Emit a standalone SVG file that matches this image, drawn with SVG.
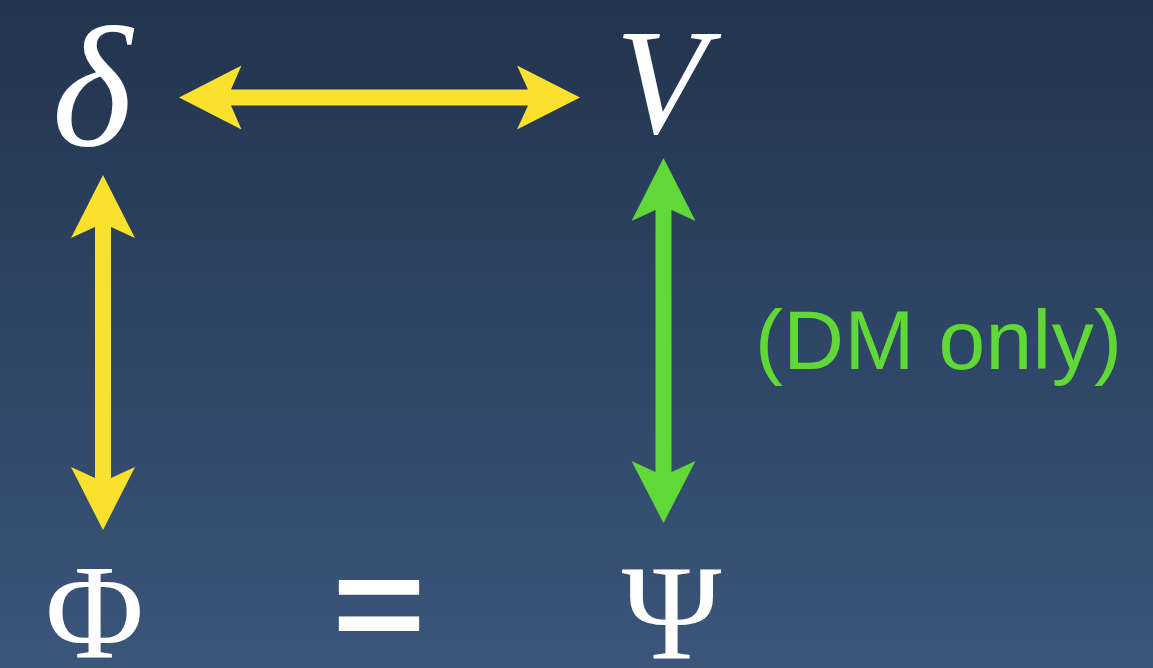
<svg xmlns="http://www.w3.org/2000/svg" width="1153" height="668" viewBox="0 0 1153 668">
<defs>
<linearGradient id="bg" x1="0" y1="0" x2="0" y2="1">
<stop offset="0" stop-color="#22344e"/>
<stop offset="1" stop-color="#3a567a"/>
</linearGradient>
</defs>
<style>
.sym{fill:#ffffff;font-family:"Liberation Serif","Times New Roman",serif;text-anchor:middle}
.it{font-style:italic}
.yel{fill:#f9e12d}
.grn{fill:#60d838}
.lbl{fill:#60d838;font-family:"Liberation Sans",Arial,sans-serif;font-size:84px}
.eq{fill:#ffffff;font-family:"Liberation Sans",Arial,sans-serif;font-weight:bold;text-anchor:middle}
</style>
<rect width="1153" height="668" fill="url(#bg)"/>
<g id="connectors">
<path class="yel" d="M179,97.5 L241.5,65.5 L231,89.5 L528,89.5 L517,65.5 L580,97.5 L517,129.5 L528,105.5 L231,105.5 L241.5,129.5 Z"/>
<path class="yel" d="M103,175 L135,238 L111,227 L111,478 L135,467 L103,530 L71,467 L95,478 L95,227 L71,238 Z"/>
<path class="grn" d="M663.5,158 L695.5,221 L671.5,210 L671.5,472 L695.5,461 L663.5,523 L631.5,461 L655.5,472 L655.5,210 L631.5,221 Z"/>
</g>
<g id="delta"><text class="sym it" x="92" y="145" font-size="172">δ</text></g>
<g id="V"><text class="sym it" x="661" y="133" font-size="150">V</text></g>
<g id="Phi"><text class="sym" x="94.5" y="658" font-size="135">Φ</text></g>
<g id="equals"><text class="eq" x="379" y="658" font-size="160" transform="translate(0,91.2) scale(1,0.85)">=</text></g>
<g id="Psi"><text class="sym" x="671.5" y="659" font-size="135">Ψ</text></g>
<g id="label"><text class="lbl" x="755" y="369" textLength="367">(DM only)</text></g>
</svg>
